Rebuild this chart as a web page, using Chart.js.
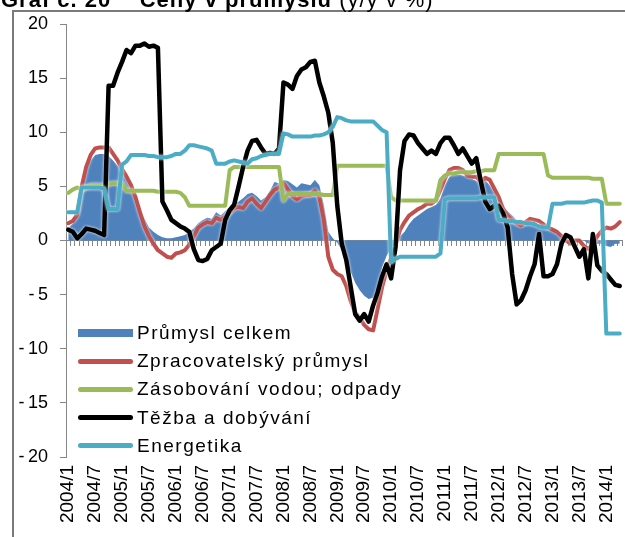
<!DOCTYPE html>
<html>
<head>
<meta charset="utf-8">
<script src="https://cdn.jsdelivr.net/npm/chart.js@4.4.1/dist/chart.umd.min.js"></script>
<style>
  html, body { margin: 0; padding: 0; overflow: hidden; background: #fff; }
  #wrap { position: relative; width: 625px; height: 537px; overflow: hidden; }
  #title { position: absolute; left: 1px; top: -13px; font: bold 22px Arial, "Liberation Sans", sans-serif; letter-spacing: 1px; white-space: pre; color: #000; z-index: 3; }
  #title span { font-weight: normal; }
  canvas { position: absolute; left: 0; top: 0; z-index: 1; }
  #legend { position: absolute; left: 78px; top: 319px; font: 19px Arial, "Liberation Sans", sans-serif; letter-spacing: 1.5px; color: #000; z-index: 3; }
  .item { height: 28.2px; display: flex; align-items: center; }
  .swatch { width: 55px; margin-right: 4px; border-radius: 3px; }
</style>
</head>
<body>
<div id="wrap">
  <canvas id="chart" width="625" height="537"></canvas>
  <div id="title">Graf č. 20    Ceny v průmyslu <span>(y/y v %)</span></div>
  <div id="legend"></div>
</div>
<script>
// monthly categories 2004/1 .. 2014/4
var months = [];
for (var y = 2004; y <= 2014; y++) {
  for (var m = 1; m <= 12; m++) {
    if (months.length < 124) months.push(y + "/" + m);
  }
}

var seriesNames = [
  "Průmysl celkem",
  "Zpracovatelský průmysl",
  "Zásobování vodou; odpady",
  "Těžba a dobývání",
  "Energetika",
];
var seriesColors = ["#4F81BD", "#C0504D", "#9BBB59", "#000000", "#4BACC6"];

var celkem = [
  1.1, 1.6, 3.5, 5.5, 6.7, 7.4, 7.9, 8.0, 8.0, 7.8,
  7.4, 6.9, 6.5, 5.6, 4.6, 3.7, 2.8, 2.0, 1.2, 0.8,
  0.5, 0.3, 0.2, 0.2, 0.3, 0.4, 0.5, 0.8, 1.1, 1.6,
  1.9, 2.1, 2.0, 2.6, 2.3, 2.7, 3.1, 3.4, 3.6, 3.9,
  4.3, 4.4, 4.1, 3.7, 4.0, 4.6, 5.4, 5.3, 5.6, 5.5,
  5.2, 4.9, 5.3, 5.2, 5.1, 5.6, 5.1, 3.3, 0.8, 0.2,
  -0.2, -0.9, -1.9, -2.9, -3.9, -4.6, -5.1, -5.4, -5.3, -4.4,
  -2.5, -1.4, -0.7, -0.3, 0.4, 0.8, 1.5, 2.0, 2.3, 2.6,
  2.9, 3.1, 3.3, 3.9, 5.1, 5.9, 6.2, 6.1, 6.0, 5.9,
  5.7, 5.5, 5.3, 5.6, 5.1, 4.4, 3.7, 3.2, 2.7, 2.3,
  1.9, 1.7, 1.6, 1.6, 1.5, 1.3, 1.2, 1.0, 0.9, 0.8,
  0.6, 0.4, 0.1, 0.0, 0.0, 0.0, -0.3, -0.2, -0.3, -0.3,
  -0.5, -0.6, -0.3, -0.3,
];

var zpracovatelsky = [
  1.6, 1.8, 2.4, 5.0, 6.8, 7.9, 8.5, 8.6, 8.6, 8.6,
  8.0, 7.4, 6.6, 5.9, 5.1, 4.0, 2.6, 1.3, 0.4, -0.3,
  -0.9, -1.2, -1.5, -1.6, -1.2, -1.1, -0.9, -0.4, 0.4, 1.2,
  1.5, 1.7, 1.6, 2.1, 1.9, 2.2, 2.6, 3.0, 3.1, 3.0,
  3.6, 3.9, 3.4, 3.0, 3.6, 4.2, 4.7, 4.9, 5.3, 4.7,
  4.1, 3.8, 4.1, 4.2, 4.2, 4.6, 4.0, 1.9, -1.5, -2.7,
  -3.1, -3.3, -4.2, -5.6, -6.7, -7.1, -7.8, -8.2, -8.3, -6.3,
  -4.3, -2.8, -1.6, -0.4, 1.0, 1.7, 2.3, 2.6, 2.9, 3.1,
  3.4, 3.4, 3.7, 4.7, 5.7, 6.5, 6.7, 6.7, 6.5, 6.0,
  5.9, 5.9, 5.4, 5.8, 5.6, 4.8, 4.0, 2.9, 2.3, 1.9,
  1.6, 1.4, 1.7, 2.0, 1.9, 1.8, 1.5, 1.2, 1.0, 0.8,
  0.4, 0.0, -0.3, 0.0, 0.0, -0.5, -0.8, -0.3, 0.4, 0.9,
  1.2, 1.1, 1.3, 1.7,
];

var voda = [
  4.4, 4.7, 4.9, 4.7, 4.9, 5.1, 5.1, 5.1, 5.1, 5.2,
  5.3, 5.3, 5.3, 4.6, 4.6, 4.6, 4.6, 4.6, 4.6, 4.6,
  4.5, 4.5, 4.5, 4.5, 4.5, 4.4, 4.0, 3.2, 3.2, 3.2,
  3.2, 3.2, 3.2, 3.2, 3.2, 3.2, 6.5, 6.8, 6.8, 6.8,
  6.8, 6.8, 6.8, 6.8, 6.8, 6.8, 6.8, 6.8, 3.7, 4.3,
  4.3, 4.3, 4.3, 4.3, 4.3, 4.3, 4.3, 4.2, 4.2, 4.2,
  6.9, 6.9, 6.9, 6.9, 6.9, 6.9, 6.9, 6.9, 6.9, 6.9,
  6.9, 6.9, 4.0, 3.7, 3.7, 3.7, 3.7, 3.7, 3.7, 3.7,
  3.7, 3.7, 3.7, 5.6, 6.0, 6.2, 6.2, 6.3, 6.3, 6.3,
  6.3, 6.4, 6.4, 6.5, 6.5, 6.5, 8.0, 8.0, 8.0, 8.0,
  8.0, 8.0, 8.0, 8.0, 8.0, 8.0, 8.0, 6.0, 5.8, 5.8,
  5.8, 5.8, 5.8, 5.8, 5.8, 5.8, 5.8, 5.7, 5.7, 5.7,
  3.4, 3.4, 3.4, 3.4,
];

var tezba = [
  1.0, 0.8, 0.2, 0.6, 1.1, 1.0, 0.9, 0.7, 0.5, 14.3,
  14.3, 15.5, 16.5, 17.6, 17.3, 18.0, 18.0, 18.2, 17.9, 18.0,
  17.8, 3.6, 2.8, 1.9, 1.6, 1.3, 1.1, 0.8, -0.8, -1.8,
  -1.9, -1.7, -0.9, -0.6, -0.3, 1.9, 2.8, 3.3, 5.0, 6.8,
  8.3, 9.2, 9.3, 8.6, 8.0, 8.1, 8.0, 8.5, 14.6, 14.4,
  14.0, 15.2, 15.8, 16.0, 16.5, 16.6, 14.6, 13.3, 11.8, 9.0,
  3.2, -0.3, -1.8, -4.3, -6.8, -7.4, -6.8, -7.5, -6.0, -4.8,
  -3.3, -2.2, -3.5, -0.6, 6.5, 9.2, 9.8, 9.7, 9.0, 8.5,
  8.0, 8.3, 8.0, 9.0, 9.5, 9.5, 8.8, 8.0, 8.5, 7.8,
  7.1, 7.6, 5.5, 3.6, 2.9, 3.2, 3.2, 2.5, 1.2, -3.1,
  -5.9, -5.5, -4.6, -3.3, -2.2, 0.6, -3.3, -3.3, -3.1, -2.2,
  -0.3, 0.5, 0.3, -0.6, -1.5, -0.8, -3.5, 0.6, -2.3, -2.8,
  -3.1, -3.6, -4.1, -4.2,
];

var energetika = [
  2.6, 2.6, 2.6, 4.9, 4.9, 4.9, 4.9, 4.9, 4.8, 2.9,
  2.9, 2.9, 7.0, 7.3, 7.9, 7.9, 7.9, 7.9, 7.8, 7.8,
  7.7, 7.7, 7.7, 7.8, 8.0, 8.0, 8.3, 8.8, 8.8, 8.7,
  8.6, 8.5, 8.3, 7.1, 7.1, 7.1, 7.3, 7.4, 7.3, 7.2,
  7.1, 7.5, 7.6, 7.8, 7.9, 8.0, 8.0, 8.0, 9.9, 9.8,
  9.6, 9.6, 9.6, 9.6, 9.6, 9.7, 9.7, 9.8, 10.0, 10.5,
  11.4, 11.3, 11.1, 11.0, 11.0, 11.0, 11.0, 11.0, 11.0, 10.6,
  10.2, 10.0, -2.0, -1.7, -1.5, -1.5, -1.5, -1.5, -1.5, -1.5,
  -1.5, -1.5, -1.5, -1.2, 3.8, 3.9, 3.9, 3.9, 3.9, 3.9,
  3.9, 3.9, 4.0, 4.0, 4.0, 4.0, 1.9, 1.9, 1.8, 1.8,
  1.7, 1.7, 1.6, 1.6, 1.5, 1.3, 1.2, 1.2, 3.4, 3.4,
  3.4, 3.5, 3.5, 3.5, 3.5, 3.5, 3.6, 3.7, 3.7, 3.5,
  -8.6, -8.6, -8.6, -8.6,
];

var yTicks = { min: -20, max: 20, step: 5 };

var FONT = 'Arial, "Liberation Sans", sans-serif';

// grey frame of the chart object, drawn after everything else
var frame = {
  id: "chartFrame",
  afterDraw: function (chart) {
    var c = chart.ctx;
    c.save();
    c.fillStyle = "#7a7a7a";
    c.fillRect(12, 10, 2, chart.height - 10);
    c.fillRect(12, 10, chart.width - 12, 2);
    c.restore();
  },
};

// white halo round the lines, as in the original
var halo = {
  id: "halo",
  beforeDatasetDraw: function (chart, args) {
    if (chart.data.datasets[args.index].fill) return;
    chart.ctx.save();
    chart.ctx.shadowColor = "rgba(255,255,255,0.95)";
    chart.ctx.shadowBlur = 3;
  },
  afterDatasetDraw: function (chart, args) {
    if (chart.data.datasets[args.index].fill) return;
    chart.ctx.restore();
  },
};

function lineSet(i, data, width, order) {
  return {
    label: seriesNames[i],
    data: data,
    borderColor: seriesColors[i],
    backgroundColor: seriesColors[i],
    borderWidth: width,
    fill: false,
    order: order,
  };
}

var ctx = document.getElementById("chart");
var chart = new Chart(ctx, {
  type: "line",
  data: {
    labels: months,
    datasets: [
      {
        label: seriesNames[0],
        data: celkem,
        backgroundColor: seriesColors[0],
        borderColor: seriesColors[0],
        borderWidth: 0,
        fill: "origin",
        order: 5,
      },
      lineSet(1, zpracovatelsky, 4, 4),
      lineSet(2, voda, 4, 3),
      lineSet(3, tezba, 4.5, 2),
      lineSet(4, energetika, 4, 1),
    ],
  },
  options: {
    responsive: false,
    animation: false,
    devicePixelRatio: 1,
    layout: { padding: { left: 0, top: 24, right: 3, bottom: 0 } },
    plugins: {
      legend: { display: false },
      tooltip: { enabled: false },
    },
    elements: {
      point: { radius: 0 },
      line: { tension: 0, borderJoinStyle: "round", borderCapStyle: "round" },
    },
    scales: {
      x: {
        type: "category",
        offset: true,
        grid: { display: false, drawTicks: false },
        border: { display: false },
        ticks: {
          autoSkip: false,
          maxRotation: 90,
          minRotation: 90,
          padding: 8,
          color: "#000",
          font: { family: FONT, size: 19 },
          callback: function (v, i) {
            return i % 6 === 0 ? months[i] : "";
          },
        },
        afterFit: function (s) {
          s.height = 80;
          s.paddingLeft = 0;
          s.paddingRight = 0;
        },
      },
      x0: {
        type: "category",
        axis: "x",
        position: { y: 0 },
        offset: true,
        ticks: { display: false },
        grid: {
          drawOnChartArea: false,
          drawTicks: true,
          tickLength: 5,
          color: "#868686",
          offset: true,
        },
        border: { color: "#868686" },
      },
      y: {
        min: yTicks.min,
        max: yTicks.max,
        ticks: {
          stepSize: yTicks.step,
          padding: 12,
          color: "#000",
          font: { family: FONT, size: 18 },
          callback: function (v) {
            return v < 0 ? "-\u2009" + Math.abs(v) : String(v);
          },
        },
        grid: { drawOnChartArea: false, tickLength: 6, color: "#868686" },
        border: { color: "#868686" },
        afterFit: function (s) {
          s.width = 66;
        },
      },
    },
  },
  plugins: [halo, frame],
});

// legend inside the plot, bottom left
var legend = document.getElementById("legend");
seriesNames.forEach(function (name, i) {
  var item = document.createElement("div");
  item.className = "item";
  var sw = document.createElement("div");
  sw.className = "swatch";
  sw.style.background = seriesColors[i];
  sw.style.height = i === 0 ? "8px" : "5px";
  if (i === 0) sw.style.borderRadius = "0";
  var tx = document.createElement("span");
  tx.textContent = name;
  item.appendChild(sw);
  item.appendChild(tx);
  legend.appendChild(item);
});
</script>
</body>
</html>
